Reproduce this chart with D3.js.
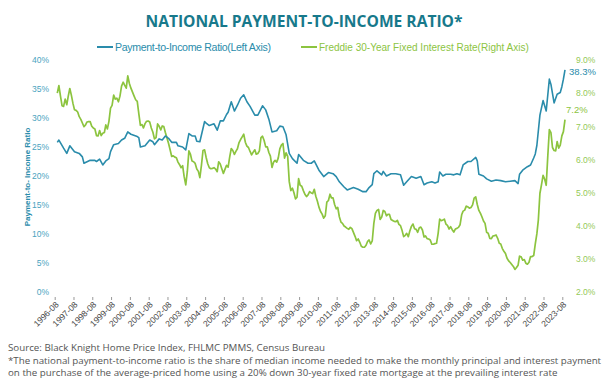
<!DOCTYPE html>
<html>
<head>
<meta charset="utf-8" />
<title>National Payment-to-Income Ratio</title>
<script src="https://d3js.org/d3.v7.min.js"></script>
<style>
  body { margin: 0; background: #fff; }
  svg text { font-family: "Liberation Sans", Arial, sans-serif; }
</style>
</head>
<body>
<svg id="chart" width="609" height="387"></svg>
<script>
// Freddie Mac 30-year fixed rate, monthly from 1996-08 (right axis, %)
var rateStart = "1996-08";
var rateValues = [
  8.00, 8.23, 7.92, 7.62, 7.60,
  7.82, 7.65, 7.90, 8.14, 7.94, 7.69, 7.50, 7.48, 7.43, 7.29, 7.21, 7.10,
  6.99, 7.04, 7.13, 7.14, 7.14, 7.00, 6.95, 6.92, 6.72, 6.71, 6.87, 6.72,
  6.79, 6.81, 7.04, 6.92, 7.15, 7.55, 7.63, 7.94, 7.82, 7.85, 7.74, 7.91,
  8.21, 8.33, 8.24, 8.15, 8.52, 8.29, 8.15, 8.03, 7.91, 7.80, 7.75, 7.38,
  7.03, 7.05, 6.95, 7.08, 7.15, 7.16, 7.13, 6.95, 6.82, 6.62, 6.66, 7.07,
  7.00, 6.89, 7.01, 6.99, 6.81, 6.65, 6.49, 6.29, 6.09, 6.11, 6.07, 6.05,
  5.92, 5.84, 5.75, 5.81, 5.48, 5.23, 5.63, 6.26, 6.15, 5.95, 5.93, 5.88,
  5.71, 5.64, 5.45, 5.83, 6.27, 6.29, 6.06, 5.87, 5.75, 5.72, 5.73, 5.75,
  5.71, 5.63, 5.93, 5.86, 5.72, 5.58, 5.70, 5.82, 5.77, 6.07, 6.33, 6.27,
  6.15, 6.25, 6.32, 6.51, 6.60, 6.68, 6.76, 6.52, 6.40, 6.36, 6.24, 6.14,
  6.22, 6.29, 6.16, 6.18, 6.26, 6.66, 6.70, 6.57, 6.38, 6.38, 6.21, 6.10,
  5.76, 5.92, 5.97, 5.92, 6.04, 6.32, 6.43, 6.48, 6.04, 6.20, 6.09, 5.33,
  5.06, 5.13, 5.00, 4.81, 4.86, 5.42, 5.22, 5.19, 5.06, 4.95, 4.88, 4.93,
  5.03, 4.99, 4.97, 5.10, 4.89, 4.74, 4.56, 4.43, 4.35, 4.23, 4.30, 4.71,
  4.76, 4.95, 4.84, 4.84, 4.64, 4.51, 4.55, 4.27, 4.11, 4.07, 3.99, 3.96,
  3.92, 3.89, 3.95, 3.91, 3.80, 3.68, 3.55, 3.60, 3.50, 3.38, 3.35, 3.35,
  3.41, 3.53, 3.57, 3.45, 3.54, 4.07, 4.37, 4.46, 4.49, 4.19, 4.26, 4.46,
  4.43, 4.30, 4.34, 4.34, 4.19, 4.16, 4.13, 4.12, 4.16, 4.04, 4.00, 3.86,
  3.67, 3.71, 3.77, 3.67, 3.84, 3.98, 4.05, 3.91, 3.89, 3.80, 3.94, 3.96,
  3.87, 3.66, 3.69, 3.61, 3.60, 3.57, 3.44, 3.44, 3.46, 3.47, 3.77, 4.20,
  4.15, 4.17, 4.20, 4.05, 4.01, 3.90, 3.97, 3.88, 3.81, 3.90, 3.92, 3.95,
  4.03, 4.33, 4.44, 4.47, 4.59, 4.57, 4.53, 4.55, 4.63, 4.83, 4.87, 4.64,
  4.46, 4.37, 4.27, 4.14, 4.07, 3.80, 3.77, 3.62, 3.61, 3.69, 3.70, 3.72,
  3.62, 3.47, 3.45, 3.31, 3.23, 3.16, 3.02, 2.94, 2.89, 2.83, 2.77, 2.68,
  2.74, 2.81, 3.08, 3.06, 2.96, 2.98, 2.87, 2.84, 2.90, 3.07, 3.07, 3.10,
  3.45, 3.76, 4.17, 4.98, 5.23, 5.52, 5.41, 5.22, 6.11, 6.90, 6.81, 6.36,
  6.27, 6.26, 6.54, 6.34, 6.43, 6.71, 6.84, 7.20
];

// payment-to-income ratio (left axis, %)
var ratioDates = [
  "1996-08","1996-09","1996-12","1997-02","1997-04","1997-07","1997-10","1997-12",
  "1998-01","1998-05","1998-08","1998-09","1998-11","1999-01","1999-03","1999-05",
  "1999-06","1999-08","1999-11","2000-01","2000-03","2000-05","2000-07","2000-11",
  "2000-12","2001-01","2001-04","2001-07","2001-09","2001-10","2002-01","2002-03",
  "2002-05","2002-07","2002-09","2002-12","2003-01","2003-04","2003-06","2003-08",
  "2003-10","2003-12","2004-01","2004-03","2004-06","2004-07","2004-09","2004-12",
  "2005-02","2005-04","2005-06","2005-08","2005-09","2005-11","2006-01","2006-03",
  "2006-05","2006-07","2006-09","2006-11","2007-02","2007-04","2007-07","2007-09",
  "2007-11","2008-01","2008-04","2008-06","2008-08","2008-10","2008-12","2009-02",
  "2009-05","2009-06","2009-09","2009-12","2010-02","2010-04","2010-07","2010-10",
  "2011-01","2011-04","2011-06","2011-08","2011-11","2012-01","2012-05","2012-08",
  "2012-11","2013-01","2013-03","2013-05","2013-06","2013-08","2013-11","2013-12",
  "2014-02","2014-05","2014-08","2014-11","2015-01","2015-03","2015-06","2015-09",
  "2015-12","2016-02","2016-04","2016-07","2016-09","2016-11","2016-12","2017-02",
  "2017-04","2017-07","2017-09","2017-11","2018-01","2018-03","2018-06","2018-08",
  "2018-11","2018-12","2019-01","2019-04","2019-06","2019-09","2019-12","2020-03",
  "2020-06","2020-09","2020-12","2021-02","2021-03","2021-05","2021-08","2021-10",
  "2021-12","2022-01","2022-02","2022-04","2022-06","2022-08","2022-10","2022-11",
  "2023-01","2023-03","2023-05","2023-06","2023-07","2023-08"
];
var ratioValues = [
  25.8, 26.2, 24.8, 23.9, 25.2, 24.2, 23.9, 23.3,
  22.2, 22.7, 22.7, 22.5, 22.9, 21.9, 22.6, 23.0,
  24.2, 25.4, 25.6, 26.2, 26.5, 27.6, 27.2, 26.8,
  26.6, 25.0, 25.2, 26.2, 25.9, 25.4, 26.4, 26.2,
  26.9, 26.5, 25.8, 25.8, 25.2, 25.0, 24.5, 27.3,
  26.9, 26.9, 26.0, 25.9, 29.4, 29.1, 28.7, 29.0,
  27.9, 29.5, 29.5, 30.6, 31.0, 32.8, 31.2, 32.2,
  33.4, 34.0, 32.8, 32.0, 30.5, 30.5, 32.1, 31.4,
  29.8, 27.6, 27.8, 28.6, 28.5, 27.1, 23.9, 23.0,
  22.2, 23.7, 22.7, 22.2, 22.2, 22.6, 21.0, 19.9,
  20.6, 20.4, 19.9, 19.0, 18.1, 17.6, 18.0, 17.7,
  17.3, 17.3, 18.0, 18.5, 20.4, 20.9, 20.2, 20.8,
  20.0, 20.4, 20.4, 20.2, 18.4, 19.0, 19.9, 19.6,
  19.9, 18.5, 18.8, 19.0, 18.8, 19.0, 20.7, 20.0,
  20.3, 20.3, 20.2, 20.4, 20.2, 21.9, 22.5, 22.5,
  23.2, 22.6, 20.3, 20.0, 19.5, 19.1, 19.3, 19.2,
  19.0, 19.1, 19.2, 18.7, 20.3, 21.0, 21.6, 21.9,
  23.1, 23.8, 25.3, 30.5, 33.0, 31.2, 36.7, 35.8,
  32.6, 34.1, 34.4, 35.4, 36.7, 38.3
];

var xLabels = ["1996-08","1997-08","1998-08","1999-08","2000-08","2001-08","2002-08",
  "2003-08","2004-08","2005-08","2006-08","2007-08","2008-08","2009-08","2010-08",
  "2011-08","2012-08","2013-08","2014-08","2015-08","2016-08","2017-08","2018-08",
  "2019-08","2020-08","2021-08","2022-08","2023-08"];
var leftTicks = [0, 5, 10, 15, 20, 25, 30, 35, 40];
var rightTicks = [2, 3, 4, 5, 6, 7, 8, 9];

var blue = "#2a8cab", green = "#8cc43f";
var parseMonth = d3.timeParse("%Y-%m");

var rateData = d3.timeMonth.range(parseMonth(rateStart), d3.timeMonth.offset(parseMonth(rateStart), rateValues.length))
  .map(function(d, i) { return { date: d, value: rateValues[i] }; });
var ratioData = ratioDates.map(function(d, i) { return { date: parseMonth(d), value: ratioValues[i] }; });

var svg = d3.select("#chart");

// scales
var x = d3.scaleTime()
  .domain([parseMonth("1996-08"), parseMonth("2023-08")])
  .range([57.3, 565]);
var xTick = x.copy().range([54.7, 562.3]);
var yL = d3.scaleLinear().domain([0, 40]).range([292, 60]);
var yR = d3.scaleLinear().domain([2, 9]).range([292, 60]);

// title
svg.append("text")
  .attr("x", 304).attr("y", 27)
  .attr("text-anchor", "middle")
  .style("font-family", "'Open Sans', sans-serif")
  .style("font-weight", "700")
  .style("font-size", "15.6px")
  .style("fill", "#17798b")
  .text("NATIONAL PAYMENT-TO-INCOME RATIO*");

// legend
var legend = [
  { label: "Payment-to-Income Ratio(Left Axis)", color: blue, x: 97, size: 10.6, width: 156 },
  { label: "Freddie 30-Year Fixed Interest Rate(Right Axis)", color: green, x: 301, size: 10, width: null }
];
var lg = svg.selectAll(".legend").data(legend).enter().append("g")
  .attr("transform", function(d) { return "translate(" + d.x + ",47)"; });
lg.append("line").attr("x1", 0).attr("x2", 16).attr("y1", 0).attr("y2", 0)
  .attr("stroke", function(d) { return d.color; }).attr("stroke-width", 2);
lg.append("text").attr("x", 18).attr("y", 3.6)
  .style("font-size", function(d) { return d.size + "px"; })
  .style("fill", function(d) { return d.color; })
  .attr("textLength", function(d) { return d.width; })
  .text(function(d) { return d.label; });

// left axis
var gl = svg.append("g").attr("transform", "translate(52,0)")
  .call(d3.axisLeft(yL).tickValues(leftTicks).tickSize(0).tickPadding(3)
    .tickFormat(function(d) { return d + "%"; }));
gl.select(".domain").remove();
gl.selectAll("text").style("font-size", "8.5px").style("fill", "#4aa3c0").attr("font-family", null);

// right axis
var gr = svg.append("g").attr("transform", "translate(573,0)")
  .call(d3.axisRight(yR).tickValues(rightTicks).tickSize(0).tickPadding(3)
    .tickFormat(function(d) { return d3.format(".1f")(d) + "%"; }));
gr.select(".domain").remove();
gr.selectAll("text").style("font-size", "8.5px").style("fill", "#94c957").attr("font-family", null);

// x axis
var gx = svg.append("g").attr("transform", "translate(0,297)")
  .call(d3.axisBottom(xTick).tickValues(xLabels.map(parseMonth)).tickSize(3)
    .tickFormat(d3.timeFormat("%Y-%m")));
gx.select(".domain").remove();
gx.selectAll("line").attr("stroke", "#999");
gx.selectAll("text")
  .attr("x", 0).attr("y", 0).attr("dy", "0.35em")
  .attr("transform", "translate(2,6) rotate(-45)")
  .attr("text-anchor", "end").attr("font-family", null)
  .style("font-size", "8.5px").style("fill", "#444");

// y title
svg.append("text")
  .attr("transform", "translate(30,177) rotate(-90)")
  .attr("text-anchor", "middle")
  .style("font-size", "8px").style("font-weight", "700")
  .style("fill", "#2a8cab")
  .text("Payment-to- Income Ratio");

// lines
svg.append("path").datum(rateData)
  .attr("fill", "none").attr("stroke", green).attr("stroke-width", 1.7)
  .attr("stroke-linejoin", "round")
  .attr("d", d3.line().x(function(d) { return x(d.date); }).y(function(d) { return yR(d.value); }));
svg.append("path").datum(ratioData)
  .attr("fill", "none").attr("stroke", blue).attr("stroke-width", 1.6)
  .attr("stroke-linejoin", "round")
  .attr("d", d3.line().x(function(d) { return x(d.date); }).y(function(d) { return yL(d.value); }));

// end labels
var lastRatio = ratioData[ratioData.length - 1], lastRate = rateData[rateData.length - 1];
svg.append("text").attr("x", x(lastRatio.date) + 4).attr("y", yL(lastRatio.value) + 5)
  .style("font-size", "9.5px").style("fill", blue).text(lastRatio.value.toFixed(1) + "%");
svg.append("text").attr("x", x(lastRate.date) + 1).attr("y", yR(lastRate.value) - 7)
  .style("font-size", "9.5px").style("fill", green).text(lastRate.value.toFixed(1) + "%");

// footnotes
var notes = [
  "Source: Black Knight Home Price Index, FHLMC PMMS, Census Bureau",
  "*The national payment-to-income ratio is the share of median income needed to make the monthly principal and interest payment",
  "on the purchase of the average-priced home using a 20% down 30-year fixed rate mortgage at the prevailing interest rate"
];
svg.selectAll(".note").data(notes).enter().append("text")
  .attr("x", 8).attr("y", function(d, i) { return 351 + i * 12.5; })
  .style("font-family", "'Open Sans', sans-serif")
  .style("font-size", "9.75px").style("fill", "#555")
  .text(function(d) { return d; });
</script>
</body>
</html>
